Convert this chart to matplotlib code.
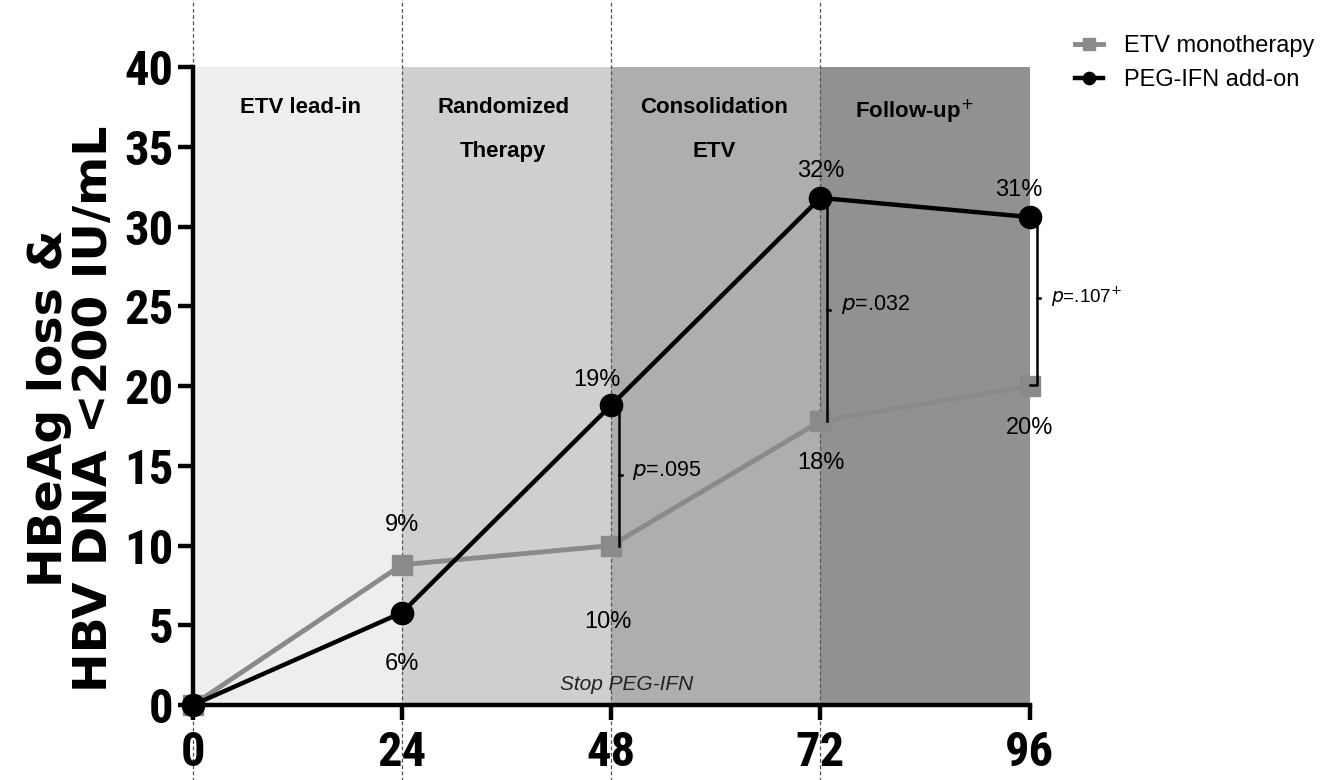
import matplotlib
matplotlib.use('Agg')
import matplotlib.pyplot as plt

COND = ['Roboto Condensed', 'Fira Sans Condensed', 'Asap Condensed', 'DejaVu Sans']
SANS = ['Liberation Sans', 'Arimo', 'DejaVu Sans']

weeks = [0, 24, 48, 72, 96]
etv = [0, 8.8, 10, 17.8, 20]
peg = [0, 5.8, 18.8, 31.8, 30.6]
etv_labels = ['', '9%', '10%', '18%', '20%']
peg_labels = ['', '6%', '19%', '32%', '31%']

phases = ['ETV lead-in', 'Randomized\nTherapy', 'Consolidation\nETV', 'Follow-up$^{+}$']
phase_edges = [0, 24, 48, 72, 96]
phase_colors = ['#eeeeee', '#cfcfcf', '#aeaeae', '#919191']

fig = plt.figure(figsize=(13.2, 7.8), dpi=100)
ax = fig.add_axes([0.146, 0.096, 0.634, 0.818])

# shaded phases
phase_x = [12.4, 35.6, 59.8, 82.8]
for i in range(4):
  ax.axvspan(phase_edges[i], phase_edges[i+1], color=phase_colors[i], lw=0, zorder=0)
  ax.text(phase_x[i], 38.1, phases[i], ha='center', va='top',
          fontsize=16, fontweight='bold', family=SANS, linespacing=2.4, zorder=3)

# dotted lines through the whole figure
for w in phase_edges[:4]:
  ax.axvline(w, ymin=-0.2, ymax=1.2, color='#555555', lw=0.9, ls=(0, (3, 2)),
             clip_on=False, zorder=1)

ax.plot(weeks, etv, color='#8a8a8a', lw=3.5, marker='s', ms=15, mec='#8a8a8a',
        mfc='#8a8a8a', zorder=4, label='ETV monotherapy', clip_on=False)
ax.plot(weeks, peg, color='black', lw=3.2, marker='o', ms=16, zorder=5,
        label='PEG-IFN add-on', clip_on=False)

# percent labels
etv_off = [0, 2.5, -4.8, -2.6, -2.6]
peg_off = [0, -3.2, 1.6, 1.7, 1.7]
etv_dx = [0, 0, -0.4, 0.1, 0]
peg_dx = [0, 0, -1.6, 0, -1.2]
for i in range(1, 5):
  ax.text(weeks[i] + etv_dx[i], etv[i] + etv_off[i], etv_labels[i], ha='center', va='center',
          fontsize=17, family=SANS)
  ax.text(weeks[i] + peg_dx[i], peg[i] + peg_off[i], peg_labels[i], ha='center', va='center',
          fontsize=17, family=SANS)

# p-value markers
def pbar(x, lo, hi, text, tx, fs):
  ax.plot([x, x], [lo, hi], color='black', lw=1.8, zorder=6, clip_on=False)
  mid = (lo + hi) / 2
  ax.plot([x, x + 0.35], [mid, mid], color='black', lw=1.8, zorder=6, clip_on=False)
  ax.text(tx, mid + 0.3, text, ha='left', va='center', fontsize=fs, family=SANS, zorder=6)

pbar(48.9, 10, 18.8, '$\\it{p}$=.095', 50.4, 15.5)
pbar(72.8, 17.8, 31.8, '$\\it{p}$=.032', 74.4, 15.5)
# bracket for week 96
bx = 96.9
ax.plot([bx - 0.8, bx, bx, bx - 0.8], [30.8, 30.8, 20.1, 20.1], color='black', lw=1.8,
        clip_on=False, zorder=6)
ax.plot([bx, bx + 0.35], [25.5, 25.5], color='black', lw=1.8, clip_on=False)
ax.text(bx + 1.5, 25.6, '$\\it{p}$=.107$^{+}$', ha='left', va='center', fontsize=13.5,
        family=SANS)

ax.text(49.8, 1.3, 'Stop PEG-IFN', ha='center', va='center', fontsize=15, style='italic',
        family=SANS, color='#222222')

ax.set_xlim(0, 96)
ax.set_ylim(0, 40)
ax.set_xticks(weeks)
ax.set_yticks(range(0, 41, 5))
for s in ['top', 'right']:
  ax.spines[s].set_visible(False)
for s in ['left', 'bottom']:
  ax.spines[s].set_linewidth(3.2)
ax.tick_params(width=3.2, length=11, direction='out', pad=3)
ax.tick_params(axis='x', pad=7)
for lab in ax.get_xticklabels() + ax.get_yticklabels():
  lab.set_family(COND)
  lab.set_fontweight('bold')
  lab.set_fontsize(35)

ax.set_ylabel('HBeAg loss &\nHBV DNA <200 IU/mL', fontsize=34, fontweight='bold',
              family=['DejaVu Sans'], linespacing=1.0)
ax.yaxis.set_label_coords(-0.09, 0.465)

leg = fig.legend(loc='upper left', bbox_to_anchor=(0.798, 0.982), frameon=False,
                 prop={'family': SANS, 'size': 17}, handlelength=1.2, markerscale=0.55,
                 labelspacing=0.5, handletextpad=0.9)

fig.savefig('out.png', dpi=100)
